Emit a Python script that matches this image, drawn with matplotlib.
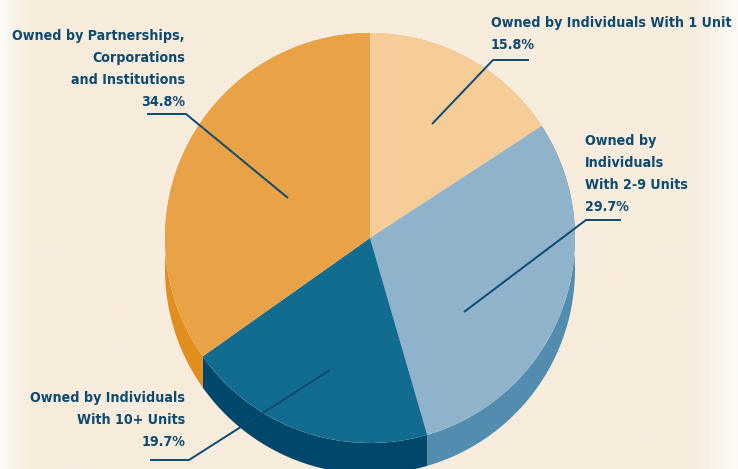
import numpy as np
import matplotlib.pyplot as plt
from matplotlib.patches import Polygon

# slice data (clockwise from 12 o'clock)
labels = ["Owned by Individuals With 1 Unit",
          "Owned by\nIndividuals\nWith 2-9 Units",
          "Owned by Individuals\nWith 10+ Units",
          "Owned by Partnerships,\nCorporations\nand Institutions"]
shares = [15.8, 29.7, 19.7, 34.8]
top_colors = ["#F6CC99", "#90B3CC", "#126C90", "#E9A246"]
side_colors = ["#EDB06A", "#528DAF", "#00476C", "#E28E1E"]

W, H = 738, 469
cx, cy, r = 370, 231, 205
depth = 31
navy = "#0C4A70"

fig = plt.figure(figsize=(W / 100, H / 100), dpi=100)
ax = fig.add_axes([0, 0, 1, 1])

# background: cream with pale edges
xs = np.linspace(0, 1, 400)
fade = np.clip(np.minimum(xs / 0.04, (1 - xs) / 0.06), 0, 1)
cream = np.array([248, 236, 221]) / 255
white = np.array([253, 250, 246]) / 255
row = white[None, :] * (1 - fade[:, None]) + cream[None, :] * fade[:, None]
ax.imshow(row[None, :, :], extent=[0, W, 0, H], aspect="auto", zorder=0)

# side (extrusion) of each slice
fracs = np.array(shares) / sum(shares)
bounds = 90 - 360 * np.concatenate([[0], np.cumsum(fracs)])
for i in range(len(shares)):
    t = np.radians(np.linspace(bounds[i], bounds[i + 1], 200))
    top = np.column_stack([cx + r * np.cos(t), cy + r * np.sin(t)])
    bot = top[::-1] - [0, depth]
    ax.add_patch(Polygon(np.vstack([top, bot]), closed=True,
                         facecolor=side_colors[i], edgecolor="none", zorder=1))

# top face
wedges, _ = ax.pie(shares, colors=top_colors, startangle=90, counterclock=False,
                   center=(cx, cy), radius=r, frame=True,
                   wedgeprops=dict(linewidth=0))
for w in wedges:
    w.set_zorder(2)

ax.set_xlim(0, W)
ax.set_ylim(0, H)
ax.set_aspect("auto")
ax.axis("off")

font = dict(family=["DejaVu Sans"], stretch="condensed", weight="bold",
            color=navy, linespacing=1.72, zorder=5)

# fit the font so the widest label matches the reference width (~238 px)
probe = ax.text(0, 0, labels[0], fontsize=10, **font)
fig.canvas.draw()
w10 = probe.get_window_extent().width
probe.remove()
fsize = 10 * 238 / w10

# leader lines: (point in slice) -> elbow -> end, in pixel coords (y down)
leaders = [
    [(432, 124), (493, 60), (529, 60)],
    [(464, 312), (586, 220), (621, 220)],
    [(330, 370), (189, 460), (150, 460)],
    [(288, 198), (186, 114), (147, 114)],
]
for pts in leaders:
    px = [p[0] for p in pts]
    py = [H - p[1] for p in pts]
    ax.plot(px, py, color=navy, lw=1.4, solid_capstyle="butt", zorder=4)

pcts = ["%.1f%%" % s for s in shares]
ax.text(491, H - 16, labels[0] + "\n" + pcts[0], ha="left", va="top", fontsize=fsize, **font)
ax.text(585, H - 134, labels[1] + "\n" + pcts[1], ha="left", va="top", fontsize=fsize, **font)
ax.text(185, H - 391, labels[2] + "\n" + pcts[2], ha="right", va="top", fontsize=fsize, **font)
ax.text(185, H - 29, labels[3] + "\n" + pcts[3], ha="right", va="top", fontsize=fsize, **font)

fig.savefig("out.png", dpi=100)
